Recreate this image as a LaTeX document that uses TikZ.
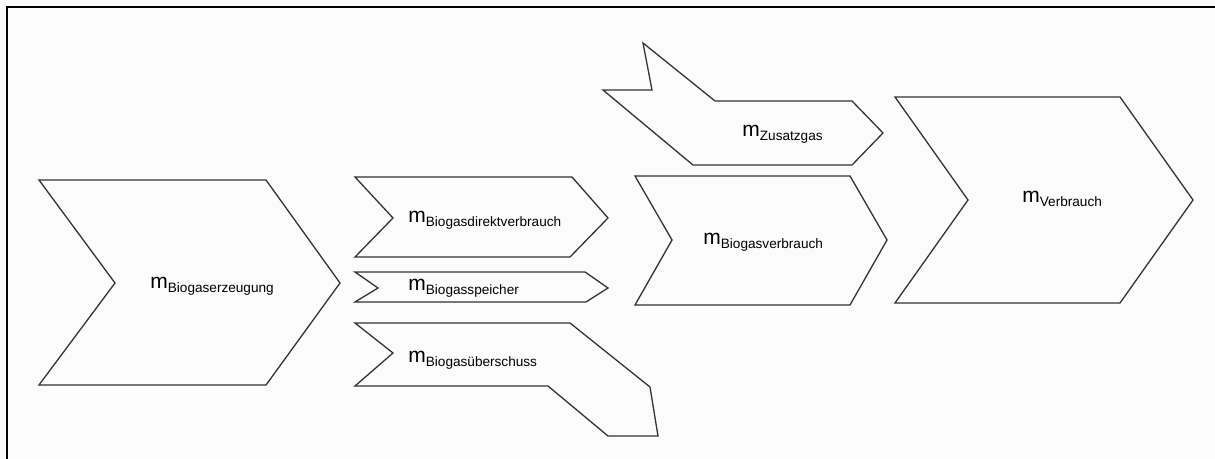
\documentclass[tikz,border=0pt]{standalone}
\usepackage{fontspec}
\setmainfont{Liberation Sans}
\usepackage{tikz}

\newcommand{\massflow}[1]{{\fontsize{10.5}{12}\selectfont m}\raisebox{-0.3ex}{\fontsize{6.8}{8}\selectfont #1}}

\begin{document}
\begin{tikzpicture}[x=0.5pt, y=-0.5pt,
		chevron/.style={draw=black!80, line width=0.65pt, line join=miter},
		flowlabel/.style={anchor=base west, inner sep=0pt}]
		\fill[white!98.5!black] (0, 0) rectangle (1215, 459);
		\useasboundingbox (0, 0) rectangle (1215, 459);
		\draw[line width=1.1pt] (7, 459) -- (7, 7) -- (1215, 7);

		\draw[chevron] (39, 180) -- (266, 180) -- (340, 283) -- (266, 385) -- (39, 385) -- (115, 283) -- cycle;
		\node[flowlabel] (erzeugung) at (150, 289) {\massflow{Biogaserzeugung}};

		\draw[chevron] (355, 177) -- (572, 177) -- (608, 218) -- (570, 257) -- (355, 257) -- (393, 218) -- cycle;
		\node[flowlabel] (direkt) at (408, 223) {\massflow{Biogasdirektverbrauch}};

		\draw[chevron] (355, 272) -- (585, 272) -- (608, 288) -- (586, 302) -- (355, 302) -- (378, 288) -- cycle;
		\node[flowlabel] (speicher) at (408, 291) {\massflow{Biogasspeicher}};

		\draw[chevron] (355, 323) -- (570, 323) -- (650, 387) -- (658, 436) -- (608, 436) -- (548, 386) -- (355, 386) -- (393, 353) -- cycle;
		\node[flowlabel] (ueberschuss) at (408, 363) {\massflow{Biogasüberschuss}};

		\draw[chevron] (603, 90) -- (652, 90) -- (643, 43) -- (715, 101) -- (852, 101) -- (883, 133) -- (852, 165) -- (693, 165) -- cycle;
		\node[flowlabel] (zusatz) at (742, 137) {\massflow{Zusatzgas}};

		\draw[chevron] (635, 176) -- (850, 176) -- (887, 240) -- (850, 305) -- (635, 305) -- (672, 240) -- cycle;
		\node[flowlabel] (biogasverbrauch) at (703, 245) {\massflow{Biogasverbrauch}};

		\draw[chevron] (895, 97) -- (1120, 97) -- (1193, 200) -- (1120, 303) -- (895, 303) -- (968, 200) -- cycle;
		\node[flowlabel] (verbrauch) at (1022, 203) {\massflow{Verbrauch}};
	\end{tikzpicture}
\end{document}
